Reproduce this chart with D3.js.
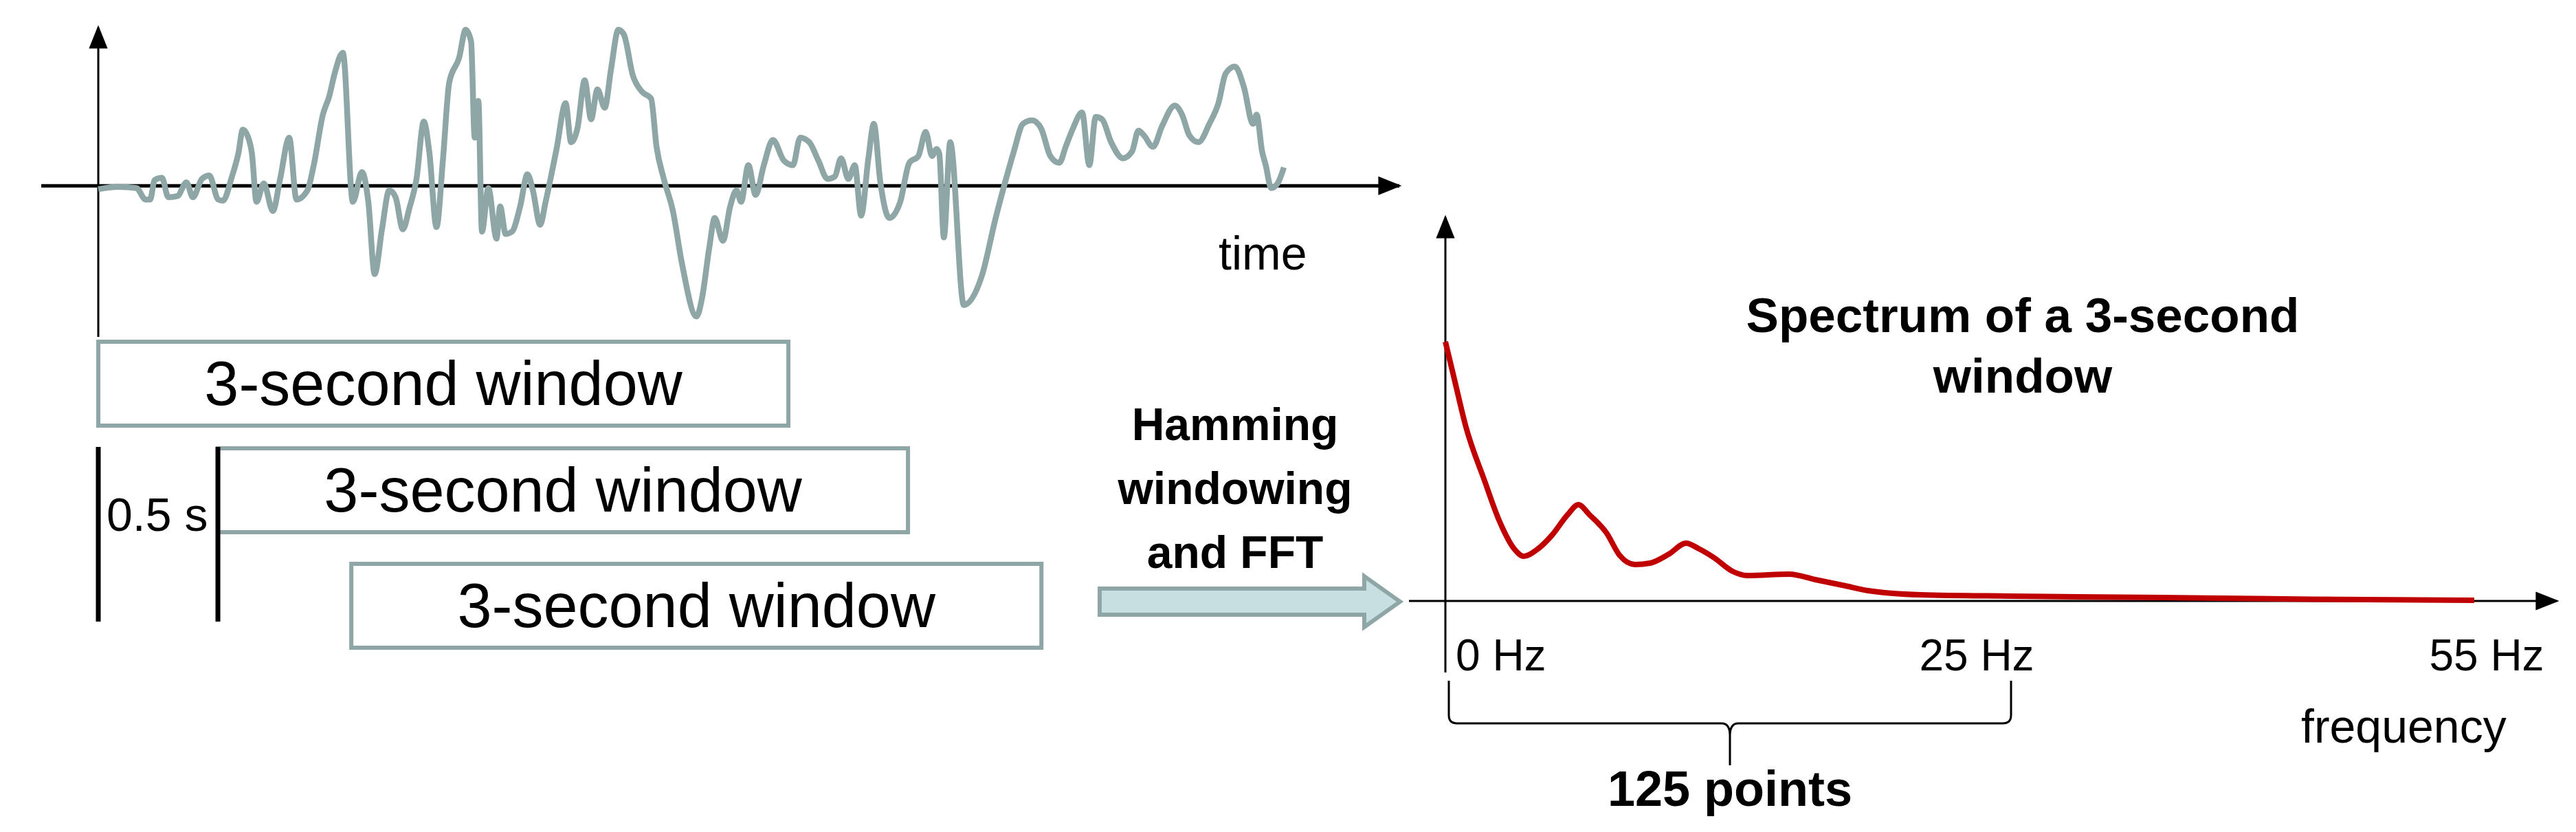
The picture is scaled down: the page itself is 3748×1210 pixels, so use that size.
<!DOCTYPE html>
<html><head><meta charset="utf-8">
<script src="https://cdn.jsdelivr.net/npm/d3@7"></script>
<style>body{margin:0;background:#fff}svg{display:block}</style>
</head><body>
<svg id="chart"></svg>
<script>
var width = 3748, height = 1210;

// raw signal: sample index (~250 Hz) and amplitude (arbitrary units)
var sampleIdx = [0,22,42,52,57,62,70,77,87,97,104,114,122,132,137,147,154,159,164,169,174,182,192,200,210,218,230,237,247,254,260,269,280,290,297,304,312,320,327,335,342,350,358,364,372,379,386,397,404,410,414,418,422,429,438,442,448,455,464,472,478,486,492,504,514,520,527,535,542,549,557,564,572,578,588,598,608,614,622,632,642,658,664,672,678,687,695,702,707,715,723,732,742,754,764,772,782,792,802,810,817,825,832,839,847,853,860,870,882,892,902,910,917,922,925,930,937,952,972,987,997,1007,1017,1027,1037,1047,1057,1064,1072,1082,1090,1097,1104,1114,1127,1137,1144,1150,1160,1170,1184,1192,1200,1210,1222,1232,1240,1250,1260,1270,1274,1280,1284,1290,1297,1304];
var amplitude = [-15,-5,-10,-60,-60,25,35,-50,-45,15,-50,30,45,-60,-65,40,140,245,220,140,-70,10,-110,30,210,-60,-20,90,310,390,490,580,-70,60,-70,-385,-190,-20,-50,-190,-100,30,280,150,-180,110,450,560,680,630,210,370,-200,-10,-230,-90,-210,-200,-90,50,-20,-170,-70,160,360,190,250,460,290,420,340,510,680,660,480,410,380,170,30,-110,-340,-570,-490,-270,-140,-240,-90,-20,-70,90,-40,90,200,110,90,210,190,110,30,40,120,30,90,-130,120,270,20,-140,-70,100,130,235,130,160,140,-225,190,-520,-390,-140,10,150,270,285,250,130,100,170,250,320,90,300,290,190,120,150,240,220,170,260,350,310,220,190,270,360,490,520,430,270,310,150,90,-10,10,80,60];

// spectrum: frequency (Hz) and magnitude (arbitrary units)
var freqHz = [0,0.4,0.9,1.73,2.39,3.06,3.46,4.06,4.72,5.39,5.88,6.38,7.12,7.71,8.38,9.04,9.87,10.64,11.2,11.87,12.7,13.36,15.19,16.35,17.68,18.68,21,25,34.8,44.5,55];
var magnitude = [377,322,254,175,116,75,65,75,96,125,140,125,99,66,53,55,68,84,76,63,43,37,39,31,22,15,9,7,5,2.5,1];

var windowStartsS = [0, 0.52, 1.1];
var windowLenS = 3;
var sampleRate = 253;
var freqTicks = [0, 25, 55];
var windowLabel = "3-second window";
var hammingLines = ["Hamming", "windowing", "and FFT"];
var titleLines = ["Spectrum of a 3-second", "window"];

var font = "'Liberation Sans', Arial, sans-serif";
var grey = "#8fa6a6";

var svg = d3.select("#chart").attr("width", width).attr("height", height);
var defs = svg.append("defs");
defs.append("marker").attr("id", "ah").attr("viewBox", "0 0 10 10")
  .attr("refX", 9).attr("refY", 5).attr("orient", "auto")
  .attr("markerUnits", "userSpaceOnUse").attr("markerWidth", 34).attr("markerHeight", 34)
  .append("path").attr("d", "M0,1 L10,5 L0,9 Z").attr("fill", "#000");

// ---- time signal ----
var x = d3.scaleLinear().domain([0, 1307]).range([143, 1872]);
var y = d3.scaleLinear().domain([-575, 690]).range([462, 40]);

svg.append("line").attr("x1", 143).attr("x2", 143).attr("y1", 490).attr("y2", 40)
  .attr("stroke", "#000").attr("stroke-width", 3).attr("marker-end", "url(#ah)");
svg.append("line").attr("x1", 60).attr("x2", 2036).attr("y1", y(0)).attr("y2", y(0))
  .attr("stroke", "#000").attr("stroke-width", 5).attr("marker-end", "url(#ah)");

svg.append("path")
  .datum(d3.zip(sampleIdx, amplitude))
  .attr("d", d3.line().x(function(d){ return x(d[0]); }).y(function(d){ return y(d[1]); }).curve(d3.curveMonotoneX))
  .attr("fill", "none").attr("stroke", grey).attr("stroke-width", 8.5).attr("stroke-linejoin", "round");

svg.append("text").attr("x", 1773).attr("y", 392).text("time")
  .style("font-family", font).style("font-size", "68px");

// ---- windows ----
var boxY = [497, 652, 820], boxH = 122;
svg.selectAll(".win").data(windowStartsS).join("rect")
  .attr("x", function(d){ return x(d * sampleRate); })
  .attr("width", function(d){ return x(d * sampleRate + windowLenS * sampleRate) - x(d * sampleRate); })
  .attr("y", function(d, i){ return boxY[i]; }).attr("height", boxH)
  .attr("fill", "#fff").attr("stroke", grey).attr("stroke-width", 6);
svg.selectAll(".winlbl").data(windowStartsS).join("text")
  .attr("x", function(d){ return x(d * sampleRate + windowLenS * sampleRate / 2); })
  .attr("y", function(d, i){ return boxY[i] + 92; })
  .attr("text-anchor", "middle").text(windowLabel)
  .style("font-family", font).style("font-size", "90px");

[0, 0.52].forEach(function(s){
  svg.append("line").attr("x1", x(s * sampleRate)).attr("x2", x(s * sampleRate))
    .attr("y1", 650).attr("y2", 904).attr("stroke", "#000").attr("stroke-width", 7);
});
svg.append("text").attr("x", 155).attr("y", 772).text("0.5 s")
  .style("font-family", font).style("font-size", "68px");

// ---- big arrow ----
svg.append("path")
  .attr("d", "M1600,856 L1985,856 L1985,838 L2037,875 L1985,912 L1985,894 L1600,894 Z")
  .attr("fill", "#c8dfe2").attr("stroke", grey).attr("stroke-width", 6);
svg.selectAll(".ham").data(hammingLines).join("text")
  .attr("x", 1797).attr("y", function(d, i){ return 640 + i * 93; })
  .attr("text-anchor", "middle").text(function(d){ return d; })
  .style("font-family", font).style("font-size", "66px").style("font-weight", "bold");

// ---- spectrum ----
var fx = d3.scaleLinear().domain([0, 25, 55]).range([2103, 2926, 3600]);
var fy = d3.scaleLinear().domain([0, 377]).range([874, 497]);

svg.append("line").attr("x1", 2103).attr("x2", 2103).attr("y1", 978).attr("y2", 316)
  .attr("stroke", "#000").attr("stroke-width", 3).attr("marker-end", "url(#ah)");
svg.append("line").attr("x1", 2050).attr("x2", 3720).attr("y1", fy(0)).attr("y2", fy(0))
  .attr("stroke", "#000").attr("stroke-width", 3).attr("marker-end", "url(#ah)");

svg.append("path")
  .datum(d3.zip(freqHz, magnitude))
  .attr("d", d3.line().x(function(d){ return fx(d[0]); }).y(function(d){ return fy(d[1]); }).curve(d3.curveMonotoneX))
  .attr("fill", "none").attr("stroke", "#c00000").attr("stroke-width", 8);

var tickDx = [15, -50, 18], tickAnchor = ["start", "middle", "middle"];
svg.selectAll(".ft").data(freqTicks).join("text")
  .attr("x", function(d, i){ return fx(d) + tickDx[i]; }).attr("y", 975)
  .attr("text-anchor", function(d, i){ return tickAnchor[i]; })
  .text(function(d){ return d + " Hz"; })
  .style("font-family", font).style("font-size", "64px");

svg.append("text").attr("x", 3348).attr("y", 1080).text("frequency")
  .style("font-family", font).style("font-size", "68px");

svg.selectAll(".title").data(titleLines).join("text")
  .attr("x", 2943).attr("y", function(d, i){ return 483 + i * 88; })
  .attr("text-anchor", "middle").text(function(d){ return d; })
  .style("font-family", font).style("font-size", "71px").style("font-weight", "bold");

// brace over 0..25 Hz
var b0 = fx(0) + 5, b1 = fx(25), bm = (b0 + b1) / 2;
svg.append("path")
  .attr("d", "M" + b0 + ",990 L" + b0 + ",1040 Q" + b0 + ",1052 " + (b0 + 12) + ",1052 L" + (bm - 12) + ",1052 Q" + bm + ",1052 " + bm + ",1070 L" + bm + ",1113" +
        " M" + bm + ",1070 Q" + bm + ",1052 " + (bm + 12) + ",1052 L" + (b1 - 12) + ",1052 Q" + b1 + ",1052 " + b1 + ",1040 L" + b1 + ",990")
  .attr("fill", "none").attr("stroke", "#000").attr("stroke-width", 3);
svg.append("text").attr("x", bm).attr("y", 1172).attr("text-anchor", "middle").text("125 points")
  .style("font-family", font).style("font-size", "72px").style("font-weight", "bold");
</script>
</body></html>
